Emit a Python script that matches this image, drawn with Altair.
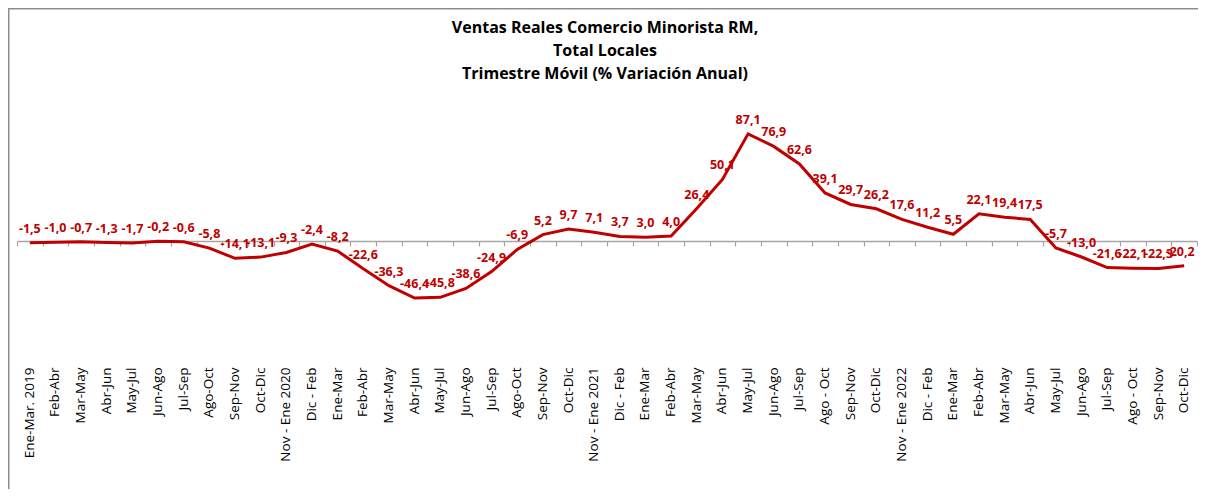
import altair as alt
import pandas as pd

periods = [
    "Ene-Mar. 2019", "Feb-Abr", "Mar-May", "Abr-Jun", "May-Jul", "Jun-Ago", "Jul-Sep",
    "Ago-Oct", "Sep-Nov", "Oct-Dic", "Nov - Ene 2020", "Dic - Feb", "Ene-Mar", "Feb-Abr",
    "Mar-May", "Abr-Jun", "May-Jul", "Jun-Ago", "Jul-Sep", "Ago-Oct", "Sep-Nov", "Oct-Dic",
    "Nov - Ene 2021", "Dic - Feb", "Ene-Mar", "Feb-Abr", "Mar-May", "Abr-Jun", "May-Jul",
    "Jun-Ago", "Jul-Sep", "Ago - Oct", "Sep-Nov", "Oct-Dic", "Nov - Ene 2022", "Dic - Feb",
    "Ene-Mar", "Feb-Abr", "Mar-May", "Abr-Jun", "May-Jul", "Jun-Ago", "Jul-Sep",
    "Ago - Oct", "Sep-Nov", "Oct-Dic",
]
values = [
    -1.5, -1.0, -0.7, -1.3, -1.7, -0.2, -0.6, -5.8, -14.1, -13.1, -9.3, -2.4, -8.2,
    -22.6, -36.3, -46.4, -45.8, -38.6, -24.9, -6.9, 5.2, 9.7, 7.1, 3.7, 3.0, 4.0,
    26.4, 50.1, 87.1, 76.9, 62.6, 39.1, 29.7, 26.2, 17.6, 11.2, 5.5, 22.1, 19.4,
    17.5, -5.7, -13.0, -21.6, -22.1, -22.3, -20.2,
]
title_lines = [
    "Ventas Reales Comercio Minorista RM,",
    "Total Locales",
    "Trimestre Móvil (% Variación Anual)",
]

keys = [f"{i:02d}|{p}" for i, p in enumerate(periods)]
df = pd.DataFrame({
    "key": keys,
    "valor": values,
    "lbl": [f"{v:.1f}".replace(".", ",") for v in values],
    "last": [i == len(values) - 1 for i in range(len(values))],
})

W, H = 1180, 246
YMIN, YMAX = -100, 100
zero_offset = -H * (0 - YMIN) / (YMAX - YMIN)
RED = "#c00000"

xscale = alt.Scale(type="band", paddingInner=0, paddingOuter=0)
yscale = alt.Scale(domain=[YMIN, YMAX])

base = alt.Chart(df)

# zero line with ticks between categories
zero_axis = base.mark_line(opacity=0).encode(
    x=alt.X("key:N", sort=keys, scale=xscale, bandPosition=0.5, title=None,
            axis=alt.Axis(orient="bottom", labels=False, domain=True, ticks=True,
                          tickBand="extent", offset=zero_offset, domainColor="#a6a6a6",
                          domainWidth=1.5, tickColor="#a6a6a6", tickWidth=1.2,
                          tickSize=5, grid=False)),
    y=alt.Y("valor:Q", scale=yscale, axis=None),
)

line = base.mark_line(color=RED, strokeWidth=3).encode(
    x=alt.X("key:N", sort=keys, scale=xscale, bandPosition=0.5, title=None,
            axis=alt.Axis(orient="bottom", labelExpr="split(datum.value, '|')[1]",
                          labelAngle=-90, labelOverlap=False, labelLimit=300,
                          domain=False, ticks=False, labelPadding=3,
                          labelFont="Open Sans", labelFontSize=13.5,
                          labelColor="#000000", grid=False)),
    y=alt.Y("valor:Q", scale=yscale, axis=None),
)

label_enc = dict(
    x=alt.X("key:N", sort=keys, scale=xscale, bandPosition=0.5, axis=None),
    y=alt.Y("valor:Q", scale=yscale, axis=None),
    text="lbl:N",
)
text_style = dict(color=RED, font="Open Sans", fontWeight="bold", fontSize=12.5,
                  baseline="middle", dy=-14)

labels = base.transform_filter("!datum.last").mark_text(**text_style).encode(**label_enc)
label_last = base.transform_filter("datum.last").mark_text(dx=-4, **text_style).encode(**label_enc)

frame = alt.Chart(pd.DataFrame({"a": [0]})).mark_rect(
    filled=False, stroke="#8c8c8c", strokeWidth=1.5
).encode(
    x=alt.value(-8.25), x2=alt.value(W + 60),
    y=alt.value(-109.25), y2=alt.value(H + 300),
)

title_df = pd.DataFrame({"t": title_lines, "row": [0, 1, 2]})
title = alt.Chart(title_df).mark_text(
    font="Open Sans", fontSize=16, fontWeight="bold", color="#000000",
    align="center", baseline="middle"
).encode(
    x=alt.value(W / 2 - 2),
    y=alt.Y("row:O", axis=None,
            scale=alt.Scale(type="point", domain=[0, 1, 2], range=[-90, -44],
                            padding=0)),
    text="t:N",
)

chart = alt.layer(frame, zero_axis, line, labels, label_last, title).resolve_axis(
    x="independent"
).resolve_scale(y="independent").properties(
    width=W, height=H,
    padding={"left": 9, "top": 110, "right": 1, "bottom": 125},
    autosize=alt.AutoSizeParams(type="none"),
).configure(background="white").configure_view(stroke=None)

chart.save("out.html", embed_options={"renderer": "svg", "actions": False})
